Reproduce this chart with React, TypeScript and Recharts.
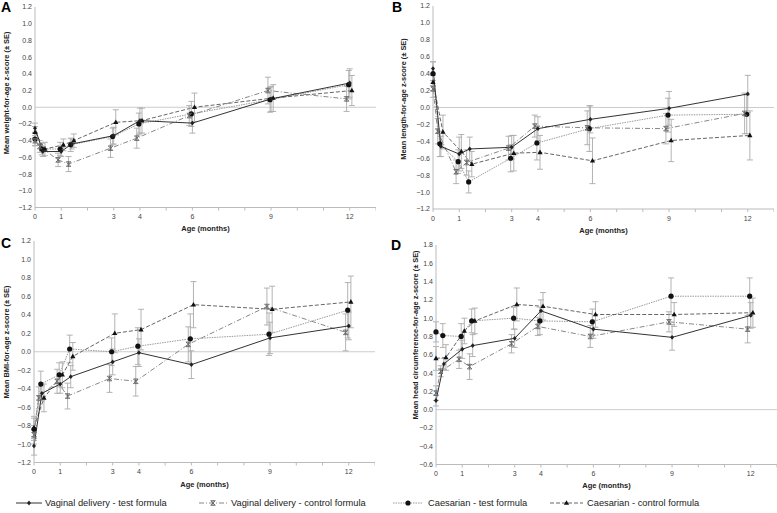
import React from "react";
import { LineChart, Line, XAxis, YAxis, ReferenceLine, ErrorBar } from "recharts";

// nominal visit ages (months)
const AGES = [0, 0.3, 1, 1.4, 3, 4, 6, 9, 12];
const MONTH_TICKS = [0, 1, 2, 3, 4, 5, 6, 7, 8, 9, 10, 11, 12, 13];
const LABELED_MONTHS = [0, 1, 3, 4, 6, 9, 12];
const Z_TICKS = [-1.2, -1.0, -0.8, -0.6, -0.4, -0.2, 0, 0.2, 0.4, 0.6, 0.8, 1.0, 1.2];
const HC_TICKS = [-0.6, -0.4, -0.2, 0, 0.2, 0.4, 0.6, 0.8, 1.0, 1.2, 1.4, 1.6, 1.8];

const LEGEND_NAMES = [
  "Vaginal delivery - test formula",
  "Vaginal delivery - control formula",
  "Caesarian - test formula",
  "Caesarian - control formula",
];

// A: weight-for-age
const WFA_VT = [-0.25, -0.53, -0.53, -0.44, -0.34, -0.16, -0.19, 0.1, 0.29];
const WFA_VT_SE = [0.06, 0.06, 0.06, 0.06, 0.1, 0.15, 0.12, 0.15, 0.17];
const WFA_VC = [-0.4, -0.47, -0.63, -0.68, -0.49, -0.37, -0.1, 0.2, 0.1];
const WFA_VC_SE = [0.06, 0.07, 0.08, 0.09, 0.11, 0.12, 0.12, 0.16, 0.15];
const WFA_CT = [-0.38, -0.5, -0.5, -0.45, -0.35, -0.2, -0.08, 0.09, 0.27];
const WFA_CT_SE = [0.08, 0.07, 0.08, 0.08, 0.1, 0.13, 0.15, 0.15, 0.17];
const WFA_CC = [-0.3, -0.5, -0.45, -0.4, -0.18, -0.16, 0.0, 0.11, 0.2];
const WFA_CC_SE = [0.07, 0.08, 0.07, 0.08, 0.15, 0.15, 0.17, 0.16, 0.18];

// B: length-for-age
const LFA_VT = [0.46, -0.46, -0.55, -0.49, -0.47, -0.25, -0.14, -0.01, 0.16];
const LFA_VT_SE = [0.08, 0.12, 0.2, 0.14, 0.14, 0.14, 0.16, 0.2, 0.22];
const LFA_VC = [0.22, -0.28, -0.76, -0.65, -0.48, -0.22, -0.24, -0.25, -0.07];
const LFA_VC_SE = [0.1, 0.15, 0.14, 0.15, 0.14, 0.13, 0.2, 0.18, 0.24];
const LFA_CT = [0.4, -0.43, -0.64, -0.88, -0.6, -0.42, -0.25, -0.09, -0.08];
const LFA_CT_SE = [0.14, 0.15, 0.14, 0.13, 0.16, 0.2, 0.27, 0.2, 0.23];
const LFA_CC = [0.3, -0.29, -0.52, -0.67, -0.54, -0.53, -0.63, -0.39, -0.33];
const LFA_CC_SE = [0.1, 0.2, 0.2, 0.15, 0.21, 0.2, 0.27, 0.25, 0.29];

// C: BMI-for-age
const BFA_VT = [-1.02, -0.45, -0.35, -0.27, -0.11, -0.01, -0.14, 0.15, 0.28];
const BFA_VT_SE = [0.1, 0.08, 0.1, 0.12, 0.14, 0.15, 0.15, 0.17, 0.15];
const BFA_VC = [-0.9, -0.5, -0.32, -0.48, -0.29, -0.32, 0.08, 0.49, 0.21];
const BFA_VC_SE = [0.1, 0.12, 0.13, 0.14, 0.15, 0.16, 0.19, 0.2, 0.2];
const BFA_CT = [-0.84, -0.35, -0.25, 0.03, 0.0, 0.06, 0.14, 0.19, 0.45];
const BFA_CT_SE = [0.12, 0.14, 0.13, 0.15, 0.15, 0.2, 0.27, 0.23, 0.3];
const BFA_CC = [-0.82, -0.5, -0.25, -0.05, 0.2, 0.24, 0.51, 0.46, 0.54];
const BFA_CC_SE = [0.12, 0.15, 0.14, 0.15, 0.21, 0.22, 0.25, 0.25, 0.28];

// D: head circumference-for-age
const HCA_VT = [0.1, 0.5, 0.66, 0.7, 0.78, 1.08, 0.88, 0.79, 1.03];
const HCA_VT_SE = [0.06, 0.06, 0.1, 0.12, 0.1, 0.12, 0.1, 0.14, 0.14];
const HCA_VC = [0.18, 0.42, 0.55, 0.47, 0.72, 0.91, 0.8, 0.96, 0.88];
const HCA_VC_SE = [0.08, 0.06, 0.1, 0.14, 0.1, 0.1, 0.12, 0.11, 0.15];
const HCA_CT = [0.85, 0.81, 0.8, 0.97, 1.0, 0.97, 0.96, 1.24, 1.24];
const HCA_CT_SE = [0.11, 0.13, 0.14, 0.13, 0.12, 0.15, 0.14, 0.2, 0.2];
const HCA_CC = [0.56, 0.57, 0.86, 0.97, 1.15, 1.13, 1.04, 1.04, 1.06];
const HCA_CC_SE = [0.13, 0.14, 0.14, 0.14, 0.18, 0.15, 0.14, 0.13, 0.16];

const FONT = "'Liberation Sans', Arial, sans-serif";

const STYLES: Record<string, any> = {
  ct: { stroke: "#999", dash: "1.5 1", marker: "circle", dodge: -0.04 },
  cc: { stroke: "#666", dash: "4 2", marker: "triangle", dodge: 0.08 },
  vc: { stroke: "#888", dash: "5 2 1 2", marker: "star", dodge: -0.12 },
  vt: { stroke: "#333", dash: undefined, marker: "diamond", dodge: 0 },
};

function Marker({ kind, cx, cy }: any) {
  if (cx == null || cy == null) return null;
  if (kind === "diamond")
    return <polygon points={`${cx},${cy - 2.4} ${cx + 2},${cy} ${cx},${cy + 2.4} ${cx - 2},${cy}`} fill="#222" />;
  if (kind === "circle") return <circle cx={cx} cy={cy} r={2.6} fill="#111" />;
  if (kind === "triangle")
    return <polygon points={`${cx},${cy - 2.8} ${cx + 2.6},${cy + 1.8} ${cx - 2.6},${cy + 1.8}`} fill="#111" />;
  const r = 2.3;
  return (
    <g stroke="#666" strokeWidth={0.9}>
      <line x1={cx - r} y1={cy - r} x2={cx + r} y2={cy + r} />
      <line x1={cx - r} y1={cy + r} x2={cx + r} y2={cy - r} />
      <line x1={cx} y1={cy - r} x2={cx} y2={cy + r} />
      <line x1={cx - r} y1={cy - r} x2={cx + r} y2={cy - r} />
      <line x1={cx - r} y1={cy + r} x2={cx + r} y2={cy + r} />
    </g>
  );
}

const build = (vals: number[], se: number[], dodge: number) =>
  AGES.map((a, i) => ({ x: a === 0 ? 0 : a + dodge, y: vals[i], se: se[i] }));

const fmtZ = (v: number) => (v < 0 ? "\u2212" + Math.abs(v).toFixed(1) : v.toFixed(1));
const fmtMonth = (v: number) => (LABELED_MONTHS.includes(v) ? String(v) : "");

function Panel({ left, top, plotW, plotH, domain, ticks, series, id }: any) {
  const yw = 40;
  const mt = 5;
  const xh = 24;
  return (
    <div style={{ position: "absolute", left: left - yw, top: top - mt }}>
      <LineChart width={yw + plotW} height={mt + plotH + xh} margin={{ top: mt, right: 0, bottom: 0, left: 0 }}>
        <XAxis
          type="number"
          dataKey="x"
          domain={[0, 13]}
          ticks={MONTH_TICKS}
          interval={0}
          tickFormatter={fmtMonth}
          tickSize={3}
          tickMargin={4}
          height={xh}
          stroke="#bbb"
          tick={{ fontSize: 7, fill: "#444", fontFamily: FONT }}
        />
        <YAxis
          type="number"
          domain={domain}
          ticks={ticks}
          interval={0}
          width={yw}
          tickSize={0}
          tickMargin={3}
          stroke="#bbb"
          allowDataOverflow
          tickFormatter={fmtZ}
          tick={{ fontSize: 7, fill: "#444", fontFamily: FONT }}
        />
        <ReferenceLine y={0} stroke="#ccc" />
        {series.map((s: any) => {
          const st = STYLES[s.key];
          return (
            <Line
              key={s.key}
              data={build(s.vals, s.se, st.dodge)}
              dataKey="y"
              stroke={st.stroke}
              strokeWidth={1}
              strokeDasharray={st.dash}
              isAnimationActive={false}
              activeDot={false}
              dot={(p: any) => <Marker key={`${id}-${s.key}-${p.index}`} kind={st.marker} cx={p.cx} cy={p.cy} />}
            >
              <ErrorBar dataKey="se" width={3} stroke="#aaa" strokeWidth={0.9} direction="y" />
            </Line>
          );
        })}
      </LineChart>
    </div>
  );
}

const PANEL_A = [
  { key: "ct", vals: WFA_CT, se: WFA_CT_SE },
  { key: "cc", vals: WFA_CC, se: WFA_CC_SE },
  { key: "vc", vals: WFA_VC, se: WFA_VC_SE },
  { key: "vt", vals: WFA_VT, se: WFA_VT_SE },
];
const PANEL_B = [
  { key: "ct", vals: LFA_CT, se: LFA_CT_SE },
  { key: "cc", vals: LFA_CC, se: LFA_CC_SE },
  { key: "vc", vals: LFA_VC, se: LFA_VC_SE },
  { key: "vt", vals: LFA_VT, se: LFA_VT_SE },
];
const PANEL_C = [
  { key: "ct", vals: BFA_CT, se: BFA_CT_SE },
  { key: "cc", vals: BFA_CC, se: BFA_CC_SE },
  { key: "vc", vals: BFA_VC, se: BFA_VC_SE },
  { key: "vt", vals: BFA_VT, se: BFA_VT_SE },
];
const PANEL_D = [
  { key: "ct", vals: HCA_CT, se: HCA_CT_SE },
  { key: "cc", vals: HCA_CC, se: HCA_CC_SE },
  { key: "vc", vals: HCA_VC, se: HCA_VC_SE },
  { key: "vt", vals: HCA_VT, se: HCA_VT_SE },
];

function LegendItem({ x1, x2, tx, k, label }: any) {
  const st = STYLES[k];
  const y = 503;
  return (
    <g>
      <line x1={x1} y1={y} x2={x2} y2={y} stroke={st.stroke} strokeWidth={1} strokeDasharray={st.dash} />
      <Marker kind={st.marker} cx={(x1 + x2) / 2} cy={y} />
      <text x={tx} y={y + 3.3} fontSize={9.3} fill="#222">{label}</text>
    </g>
  );
}

export default function App() {
  const titleStyle = { fontSize: 7.4, fontWeight: 700, fill: "#222" } as any;
  return (
    <div style={{ position: "absolute", left: 0, top: 0, width: 777, height: 513, overflow: "hidden", background: "#fff", fontFamily: FONT }}>
      <Panel id="a" left={35} top={6.5} plotW={341} plotH={200.5} domain={[-1.2, 1.2]} ticks={Z_TICKS} series={PANEL_A} />
      <Panel id="b" left={433} top={6} plotW={341} plotH={203} domain={[-1.2, 1.2]} ticks={Z_TICKS} series={PANEL_B} />
      <Panel id="c" left={34} top={241} plotW={341} plotH={221.5} domain={[-1.2, 1.2]} ticks={Z_TICKS} series={PANEL_C} />
      <Panel id="d" left={436} top={244.7} plotW={341} plotH={219.5} domain={[-0.6, 1.8]} ticks={HC_TICKS} series={PANEL_D} />
      <svg width={777} height={513} style={{ position: "absolute", left: 0, top: 0, pointerEvents: "none", fontFamily: FONT }}>
        <text x={1} y={11.7} fontSize={14} fontWeight={700}>A</text>
        <text x={392} y={11.7} fontSize={14} fontWeight={700}>B</text>
        <text x={1} y={248} fontSize={14} fontWeight={700}>C</text>
        <text x={391} y={250} fontSize={14} fontWeight={700}>D</text>

        <text transform="translate(8.5,93) rotate(-90)" textAnchor="middle" {...titleStyle}>Mean weight-for-age z-score (± SE)</text>
        <text transform="translate(405.5,99) rotate(-90)" textAnchor="middle" {...titleStyle}>Mean length-for-age z-score (± SE)</text>
        <text transform="translate(8.5,342) rotate(-90)" textAnchor="middle" {...titleStyle}>Mean BMI-for-age z-score (± SE)</text>
        <text transform="translate(417.5,335) rotate(-90)" textAnchor="middle" {...titleStyle}>Mean head circumference-for-age z-score (± SE)</text>

        <text x={205.5} y={231} textAnchor="middle" fontSize={7.5} fontWeight={700} fill="#222">Age (months)</text>
        <text x={603.5} y={233} textAnchor="middle" fontSize={7.5} fontWeight={700} fill="#222">Age (months)</text>
        <text x={204.5} y={486.7} textAnchor="middle" fontSize={7.5} fontWeight={700} fill="#222">Age (months)</text>
        <text x={606.5} y={488.4} textAnchor="middle" fontSize={7.5} fontWeight={700} fill="#222">Age (months)</text>

        <LegendItem x1={16} x2={42} tx={45} k="vt" label={LEGEND_NAMES[0]} />
        <LegendItem x1={199} x2={227} tx={231} k="vc" label={LEGEND_NAMES[1]} />
        <LegendItem x1={393} x2={423} tx={428} k="ct" label={LEGEND_NAMES[2]} />
        <LegendItem x1={550} x2={583} tx={587} k="cc" label={LEGEND_NAMES[3]} />
      </svg>
    </div>
  );
}
